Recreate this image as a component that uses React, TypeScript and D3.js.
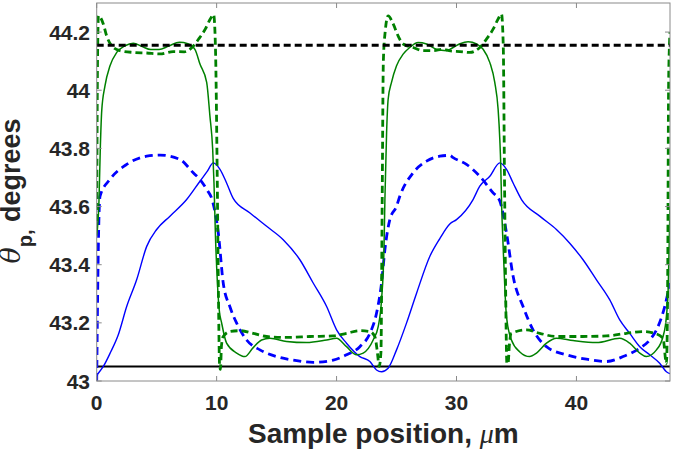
import React from "react";
import * as d3 from "d3";

// --- Data ---
type Pt = [number, number];

const greenSolid: Pt[] = [
  [0.0, 43.5], [0.19, 43.62], [0.3, 43.8], [0.42, 43.93], [0.69, 44.015],
  [1.11, 44.084], [1.67, 44.13], [2.36, 44.153], [3.05, 44.162], [3.8, 44.15],
  [4.5, 44.14], [5.2, 44.14], [6.0, 44.152], [6.9, 44.165], [7.6, 44.16],
  [8.2, 44.14], [8.61, 44.09], [9.17, 44.027], [9.44, 43.911], [9.67, 43.797],
  [9.78, 43.68], [9.9, 43.5], [10.05, 43.35], [10.2, 43.25], [10.42, 43.199],
  [10.83, 43.13], [11.67, 43.096], [12.36, 43.084], [13.03, 43.114], [13.75, 43.141],
  [14.44, 43.147], [15.83, 43.136], [17.5, 43.132], [19.17, 43.141], [20.0, 43.147],
  [20.83, 43.118], [21.67, 43.09], [22.22, 43.096], [23.05, 43.141], [23.47, 43.187],
  [23.75, 43.28], [23.95, 43.45], [24.03, 43.624], [24.17, 43.854], [24.3, 43.969],
  [24.58, 44.027], [25.0, 44.084], [25.55, 44.124], [26.1, 44.147], [26.8, 44.164],
  [27.5, 44.159], [28.33, 44.141], [29.17, 44.136], [29.72, 44.147], [30.3, 44.16],
  [30.97, 44.167], [31.67, 44.159], [32.22, 44.141], [32.78, 44.095], [33.19, 44.027],
  [33.47, 43.934], [33.61, 43.831], [33.69, 43.739], [33.75, 43.624], [33.9, 43.45],
  [34.05, 43.3], [34.17, 43.22], [34.58, 43.141], [35.28, 43.1], [36.1, 43.084],
  [36.67, 43.096], [37.5, 43.13], [38.33, 43.147], [39.72, 43.139], [41.67, 43.132],
  [43.61, 43.147], [44.44, 43.13], [45.28, 43.096], [45.83, 43.084], [46.67, 43.107],
  [47.22, 43.153], [47.5, 43.222], [47.65, 43.32], [47.75, 43.5], [47.8, 43.6],
];

const greenDashed: Pt[] = [
  [0.0, 43.55], [0.05, 44.0], [0.1, 44.2], [0.14, 44.256], [0.55, 44.228],
  [0.83, 44.187], [1.25, 44.153], [1.94, 44.136], [3.05, 44.13], [4.17, 44.128],
  [5.28, 44.125], [6.38, 44.133], [7.3, 44.132], [7.94, 44.147], [8.5, 44.176],
  [9.05, 44.21], [9.47, 44.245], [9.75, 44.26], [9.9, 44.15], [10.05, 43.7],
  [10.15, 43.3], [10.25, 43.05], [10.32, 43.04], [10.4, 43.12], [10.55, 43.153],
  [11.1, 43.17], [11.94, 43.173], [13.05, 43.164], [14.17, 43.153], [15.83, 43.15],
  [17.78, 43.153], [19.72, 43.155], [20.83, 43.164], [21.94, 43.173], [22.78, 43.17],
  [23.19, 43.153], [23.4, 43.1], [23.55, 43.05], [23.7, 43.1], [23.8, 43.6],
  [23.9, 44.1], [24.05, 44.2], [24.3, 44.256], [24.72, 44.228], [25.13, 44.187],
  [25.55, 44.159], [26.38, 44.147], [27.22, 44.136], [28.05, 44.136], [28.88, 44.141],
  [29.5, 44.135], [30.28, 44.133], [31.11, 44.13], [31.94, 44.147], [32.5, 44.176],
  [33.05, 44.21], [33.47, 44.245], [33.75, 44.262], [33.9, 44.15], [34.0, 43.7],
  [34.1, 43.3], [34.2, 43.06], [34.3, 43.06], [34.4, 43.12], [34.58, 43.164],
  [35.83, 43.176], [36.94, 43.164], [38.33, 43.153], [40.28, 43.153], [42.5, 43.155],
  [44.17, 43.164], [45.55, 43.17], [46.53, 43.164], [47.22, 43.147], [47.5, 43.06],
  [47.6, 43.3], [47.68, 44.0], [47.75, 44.15], [47.8, 44.2],
];

const blueSolid: Pt[] = [
  [0.0, 43.02], [0.2, 43.03], [0.55, 43.05], [1.11, 43.095], [1.8, 43.159],
  [2.5, 43.256], [3.33, 43.348], [4.17, 43.463], [5.0, 43.521], [6.11, 43.567],
  [7.5, 43.624], [8.61, 43.687], [9.2, 43.72], [9.72, 43.75], [10.28, 43.728],
  [10.83, 43.681], [11.38, 43.628], [12.78, 43.578], [14.17, 43.532], [15.55, 43.486],
  [16.94, 43.417], [18.05, 43.337], [19.17, 43.256], [20.0, 43.176], [20.83, 43.13],
  [21.94, 43.084], [22.78, 43.067], [23.33, 43.038], [23.75, 43.032], [24.3, 43.044],
  [25.0, 43.107], [25.83, 43.199], [26.67, 43.302], [27.78, 43.429], [28.61, 43.49],
  [29.44, 43.54], [30.0, 43.555], [31.38, 43.624], [31.94, 43.67], [32.78, 43.704],
  [33.61, 43.75], [34.17, 43.728], [34.72, 43.681], [35.42, 43.624], [36.94, 43.567],
  [38.33, 43.521], [39.44, 43.474], [40.55, 43.417], [41.67, 43.348], [42.78, 43.279],
  [43.61, 43.21], [44.44, 43.164], [45.28, 43.118], [46.11, 43.09], [46.94, 43.061],
  [47.5, 43.032], [47.8, 43.025],
];

const blueDashed: Pt[] = [
  [0.0, 43.0], [0.08, 43.3], [0.18, 43.55], [0.28, 43.636], [1.1, 43.693],
  [2.5, 43.745], [4.17, 43.773], [5.28, 43.777], [6.94, 43.762], [8.05, 43.716],
  [8.61, 43.693], [9.17, 43.659], [9.65, 43.62], [10.14, 43.509], [10.55, 43.337],
  [11.1, 43.256], [11.67, 43.199], [12.5, 43.141], [13.61, 43.107], [15.0, 43.084],
  [16.67, 43.07], [18.05, 43.064], [19.72, 43.072], [20.83, 43.09], [21.94, 43.118],
  [22.78, 43.164], [23.33, 43.233], [23.75, 43.337], [24.03, 43.452], [24.44, 43.555],
  [25.0, 43.601], [25.28, 43.636], [26.38, 43.716], [27.5, 43.756], [28.61, 43.773],
  [29.44, 43.776], [29.72, 43.768], [30.83, 43.745], [31.94, 43.704], [33.05, 43.647],
  [33.6, 43.62], [34.17, 43.509], [34.72, 43.36], [35.55, 43.256], [36.38, 43.176],
  [37.5, 43.118], [39.17, 43.09], [40.83, 43.075], [42.5, 43.067], [43.89, 43.084],
  [45.28, 43.113], [46.11, 43.141], [46.8, 43.187], [47.36, 43.256], [47.8, 43.337],
];

const refHigh = 44.155;
const refLow = 43.05;
const xTicks = [0, 10, 20, 30, 40];
const yTicks = [43, 43.2, 43.4, 43.6, 43.8, 44, 44.2];

const W = 675;
const H = 449;
const plot = { left: 96.7, right: 670, top: 3, bottom: 381 };

const App: React.FC = () => {
  const x = d3.scaleLinear().domain([0, 47.8]).range([plot.left, plot.right]);
  const y = d3.scaleLinear().domain([43, 44.3]).range([plot.bottom, plot.top]);

  const line = d3
    .line<Pt>()
    .x((d) => x(d[0]))
    .y((d) => y(d[1]))
    .curve(d3.curveMonotoneX);

  const axisColor = "#8a8a8a";
  const textColor = "#262626";
  const sans = "'Liberation Sans', Arial, Helvetica, sans-serif";
  const serif = "'DejaVu Serif', 'Liberation Serif', serif";

  return (
    <svg
      width={W}
      height={H}
      style={{ position: "absolute", left: 0, top: 0, background: "#fff" }}
    >
      <defs>
        <clipPath id="plot-clip">
          <rect
            x={plot.left}
            y={plot.top}
            width={plot.right - plot.left}
            height={plot.bottom - plot.top}
          />
        </clipPath>
      </defs>

      {/* curves */}
      <g clipPath="url(#plot-clip)" fill="none">
        <line
          x1={x(0)}
          x2={x(47.8)}
          y1={y(refLow)}
          y2={y(refLow)}
          stroke="#000"
          strokeWidth={2}
        />
        <path d={line(blueDashed) ?? ""} stroke="#0000ff" strokeWidth={2.8} strokeDasharray="8,5" />
        <path d={line(blueSolid) ?? ""} stroke="#0000ff" strokeWidth={1.4} />
        <path d={line(greenDashed) ?? ""} stroke="#008000" strokeWidth={2.8} strokeDasharray="7,4" />
        <path d={line(greenSolid) ?? ""} stroke="#008000" strokeWidth={1.5} />
        <line
          x1={x(0)}
          x2={x(47.8)}
          y1={y(refHigh)}
          y2={y(refHigh)}
          stroke="#000"
          strokeWidth={3}
          strokeDasharray="7,4"
        />
      </g>

      {/* axes box + ticks */}
      <rect
        x={plot.left}
        y={plot.top}
        width={plot.right - plot.left}
        height={plot.bottom - plot.top}
        fill="none"
        stroke={axisColor}
        strokeWidth={1}
      />
      {xTicks.map((t) => (
        <g key={"xt" + t}>
          <line x1={x(t)} x2={x(t)} y1={plot.bottom} y2={plot.bottom - 5} stroke={axisColor} />
          <line x1={x(t)} x2={x(t)} y1={plot.top} y2={plot.top + 5} stroke={axisColor} />
          <text
            x={x(t)}
            y={410}
            textAnchor="middle"
            fontFamily={sans}
            fontWeight="bold"
            fontSize={21}
            fill={textColor}
          >
            {t}
          </text>
        </g>
      ))}
      {yTicks.map((t) => (
        <g key={"yt" + t}>
          <line x1={plot.left} x2={plot.left + 5} y1={y(t)} y2={y(t)} stroke={axisColor} />
          <line x1={plot.right} x2={plot.right - 5} y1={y(t)} y2={y(t)} stroke={axisColor} />
          <text
            x={90}
            y={y(t) + 7.5}
            textAnchor="end"
            fontFamily={sans}
            fontWeight="bold"
            fontSize={21}
            fill={textColor}
          >
            {d3.format("~g")(t)}
          </text>
        </g>
      ))}

      {/* axis labels */}
      <text
        x={(plot.left + plot.right) / 2}
        y={443}
        textAnchor="middle"
        fontFamily={sans}
        fontWeight="bold"
        fontSize={28}
        fill={textColor}
      >
        Sample position,{" "}
        <tspan fontFamily="'Liberation Serif', serif" fontStyle="italic" fontWeight="normal">
          μ
        </tspan>
        m
      </text>
      <text
        transform={`translate(20,191) rotate(-90)`}
        textAnchor="middle"
        fontFamily={sans}
        fontWeight="bold"
        fontSize={27}
        fill={textColor}
      >
        <tspan fontFamily={serif} fontStyle="italic" fontWeight="normal" fontSize={27}>
          θ
        </tspan>
        <tspan fontSize={20} dy={12}>
          p,
        </tspan>
        <tspan dy={-12}> degrees</tspan>
      </text>
    </svg>
  );
};

export default App;
